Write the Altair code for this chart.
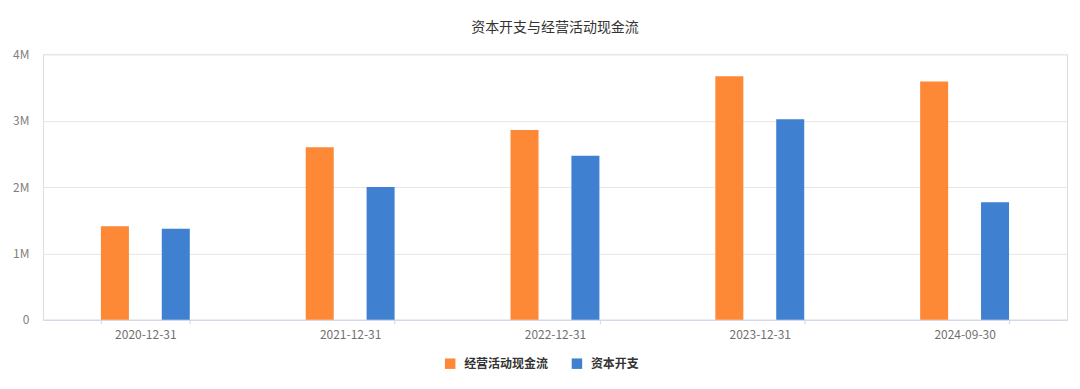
import altair as alt
import pandas as pd

dates = ["2020-12-31", "2021-12-31", "2022-12-31", "2023-12-31", "2024-09-30"]
series_names = ["经营活动现金流", "资本开支"]
operating_cf = [1.41e6, 2.60e6, 2.86e6, 3.67e6, 3.59e6]
capex = [1.37e6, 2.00e6, 2.47e6, 3.02e6, 1.77e6]
colors = ["#FD8836", "#3F80D0"]

rows = []
for d, v in zip(dates, operating_cf):
    rows.append({"date": d, "series": series_names[0], "value": v})
for d, v in zip(dates, capex):
    rows.append({"date": d, "series": series_names[1], "value": v})
df = pd.DataFrame(rows)

FONT = "Noto Sans CJK SC"

chart = alt.Chart(df).mark_bar().encode(
    x=alt.X("date:N", sort=dates, title=None,
            scale=alt.Scale(paddingInner=0.566, paddingOuter=0.283),
            axis=alt.Axis(labelAngle=0, labelColor="#707070", labelFontSize=12,
                          labelFont=FONT, labelPadding=6,
                          domainColor="#CCD6EB", tickColor="#CCD6EB",
                          tickBand="extent", tickSize=4, grid=False)),
    xOffset=alt.XOffset("series:N", sort=series_names,
                        scale=alt.Scale(paddingInner=0.54, paddingOuter=0)),
    y=alt.Y("value:Q", title=None,
            scale=alt.Scale(domain=[0, 4e6]),
            axis=alt.Axis(values=[0, 1e6, 2e6, 3e6, 4e6],
                          labelExpr="datum.value == 0 ? '0' : (datum.value / 1000000) + 'M'",
                          labelColor="#808080", labelFontSize=12, labelFont=FONT,
                          labelPadding=14, ticks=False, domain=False,
                          gridColor="#E6E6E6", gridWidth=1)),
    color=alt.Color("series:N", sort=series_names,
                    scale=alt.Scale(domain=series_names, range=colors),
                    legend=alt.Legend(title=None, orient="none", direction="horizontal",
                                      legendX=402, legendY=304,
                                      symbolType="square", symbolSize=110,
                                      symbolStrokeWidth=0, labelOffset=8,
                                      labelFont=FONT, labelFontSize=12, labelColor="#333333",
                                      labelFontWeight="bold", columnPadding=22)),
).properties(
    width=1026,
    height=266,
    title=alt.TitleParams("资本开支与经营活动现金流", font=FONT, fontSize=14,
                          fontWeight="normal", color="#333333", anchor="middle",
                          offset=13),
    padding={"left": 4, "top": 13, "right": 5, "bottom": 5},
).configure_view(stroke=None).configure(background="white")

chart.save("out.html", embed_options={"renderer": "svg", "actions": False})
